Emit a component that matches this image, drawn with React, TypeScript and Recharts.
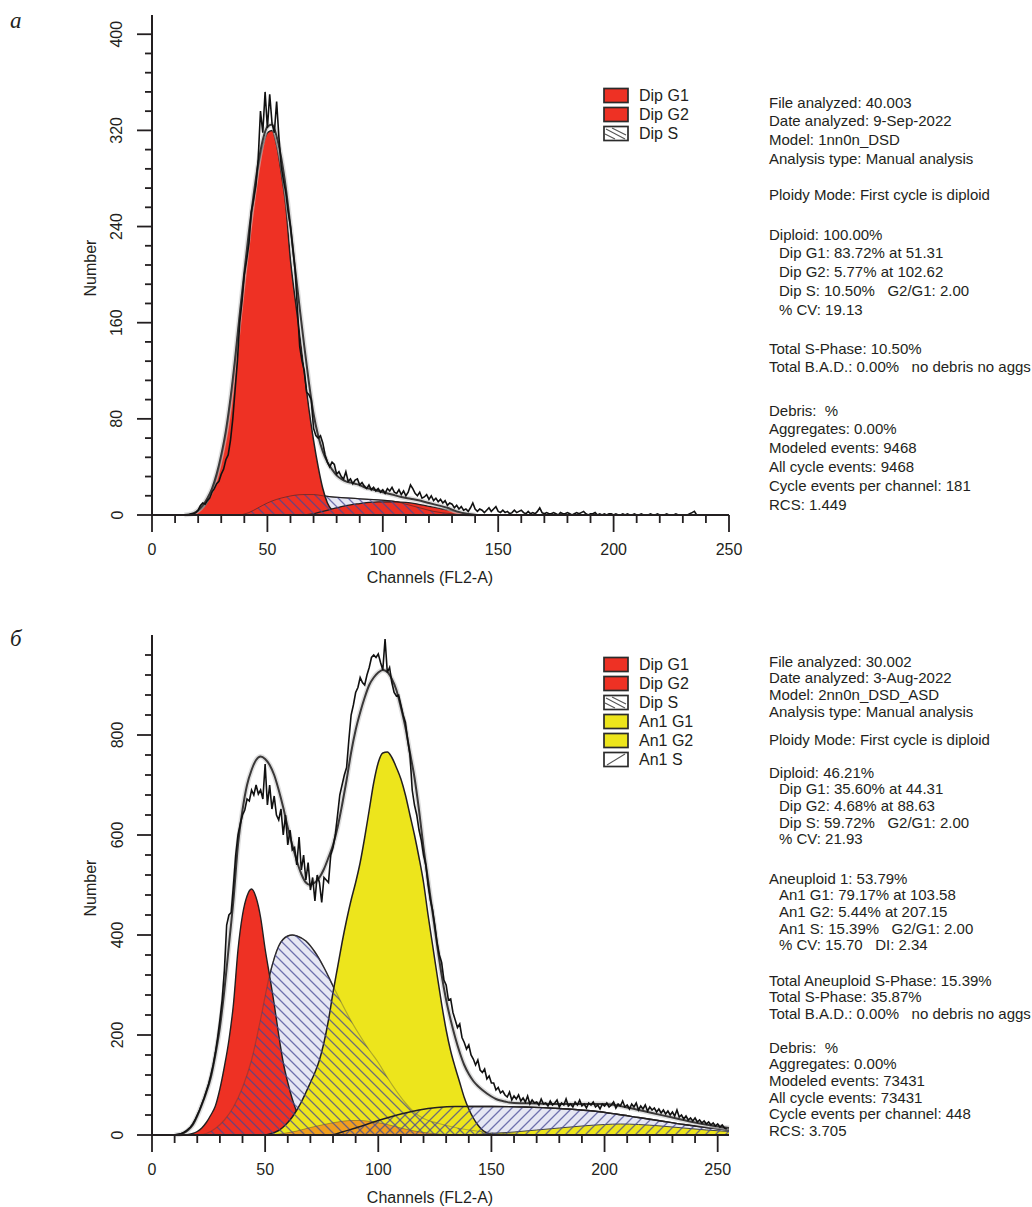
import React from 'react';
import { ComposedChart, Area, Line, XAxis, YAxis, Label } from 'recharts';

const FONT = '"Liberation Sans", Arial, Helvetica, sans-serif';
const INK = '#231f20';
const RED = '#ee3124';
const YELLOW = '#ede51c';
const LAVENDER = '#e6e7f3';
const HATCH = 'rgba(70,72,150,0.75)';

type Pt = [number, number];

// ---------------- shared ticks ----------------
const xTicks = [0, 10, 20, 30, 40, 50, 60, 70, 80, 90, 100, 110, 120, 130, 140, 150, 160, 170, 180, 190, 200, 210, 220, 230, 240, 250];
const yTicksA = [0, 16, 32, 48, 64, 80, 96, 112, 128, 144, 160, 176, 192, 208, 224, 240, 256, 272, 288, 304, 320, 336, 352, 368, 384, 400];
const yTicksB = [0, 40, 80, 120, 160, 200, 240, 280, 320, 360, 400, 440, 480, 520, 560, 600, 640, 680, 720, 760, 800, 840, 880, 920, 960];

// ---------------- panel а ----------------
const histAStart = 15;
const histA = [
  0, 0, 1, 1, 2, 4, 8, 10, 9, 12,
  14, 19, 22, 26, 28, 34, 38, 46, 50, 62,
  80, 104, 128, 160, 178, 200, 212, 226, 252, 262,
  274, 296, 336, 318, 352, 322, 350, 326, 318, 344,
  314, 290, 278, 268, 252, 240, 222, 204, 172, 140,
  128, 120, 102, 100, 96, 72, 66, 64, 66, 60,
  50, 44, 40, 44, 42, 34, 36, 32, 30, 36,
  28, 30, 26, 29, 30, 25, 27, 24, 22, 25,
  21, 23, 20, 22, 19, 21, 18, 22, 20, 23,
  19, 18, 21, 17, 20, 16, 19, 25, 22, 18,
  16, 19, 14, 15, 17, 13, 16, 12, 14, 11,
  13, 10, 12, 8, 10, 9, 6, 8, 5, 7,
  4, 5, 3, 6, 10, 5, 3, 5, 4, 2,
  4, 6, 3, 5, 7, 3, 2, 4, 2, 3,
  1, 2, 4, 2, 3, 4, 2, 1, 3, 1,
  2, 1, 3, 6, 2, 1, 2, 1, 1, 2,
  1, 0, 2, 1, 1, 2, 1, 0, 1, 2,
  1, 2, 3, 1, 0, 1, 1, 2, 0, 1,
  0, 1, 0, 1, 1, 0, 1, 0, 0, 1,
  0, 1, 0, 0, 1, 0, 0, 1, 0, 0,
  0, 1, 0, 0, 1, 0, 0, 0, 1, 0,
  0, 0, 1, 0, 0, 0, 0, 0, 1, 2,
  3, 0,
];
const dipG1A: Pt[] = [
  [16, 0], [18, 1], [20, 3], [22, 6], [24, 11], [26, 20], [28, 32], [30, 48], [32, 68], [34, 95],
  [36, 128], [38, 165], [40, 200], [42, 232], [44, 262], [46, 288], [48, 307], [50, 318], [52, 320], [54, 308],
  [56, 285], [58, 257], [60, 212], [62, 180], [64, 150], [66, 118], [68, 88], [70, 62], [72, 40], [74, 22],
  [76, 10], [78, 4], [80, 1], [82, 0],
];
const dipG2A: Pt[] = [
  [66, 0], [70, 1], [74, 3], [78, 5], [82, 7], [86, 8.5], [90, 9.5], [94, 10.5], [98, 11], [102, 11],
  [106, 11], [110, 10.5], [114, 9.5], [118, 8], [122, 6.5], [126, 5], [130, 3.5], [134, 2], [138, 1], [142, 0],
];
const dipSA: Pt[] = [
  [38, 0], [42, 2], [46, 6], [50, 10], [54, 13], [58, 15], [62, 16.5], [66, 17], [70, 17], [74, 16],
  [78, 15], [82, 14.5], [86, 14], [90, 13.5], [94, 13], [98, 12.5], [102, 12], [106, 11], [110, 9], [116, 6],
  [122, 3], [130, 1], [136, 0],
];
const totalA: Pt[] = [
  [14, 0], [16, 0.5], [18, 1.5], [20, 4], [22, 8], [24, 14], [26, 22], [28, 34], [30, 50], [32, 70],
  [34, 97], [36, 130], [38, 167], [40, 202], [42, 236], [44, 266], [46, 292], [48, 312], [50, 323], [52, 325],
  [54, 315], [56, 297], [58, 272], [60, 240], [62, 205], [64, 172], [66, 140], [68, 110], [70, 84], [72, 66],
  [74, 53], [76, 44], [78, 38], [80, 33], [82, 30], [84, 28], [86, 27], [88, 26], [90, 25], [92, 23],
  [94, 22], [96, 21], [98, 20], [100, 19], [104, 17], [108, 15], [112, 13.5], [116, 12], [120, 10], [124, 8],
  [128, 6], [132, 3], [136, 1], [140, 0],
];

// ---------------- panel б ----------------
const histBStart = 10;
const histB = [
  0, 1, 2, 3, 5, 8, 12, 16, 22, 30,
  40, 50, 62, 74, 88, 102, 120, 140, 165, 195,
  230, 270, 330, 420, 440, 445, 500, 560, 600, 622,
  640, 650, 672, 668, 690, 680, 700, 682, 690, 672,
  742, 660, 700, 652, 678, 640, 630, 652, 600, 640,
  580, 610, 570, 575, 540, 596, 530, 560, 510, 545,
  490, 515, 468, 520, 505, 465, 515, 510, 505, 560,
  575, 600, 640, 680, 700, 720, 735, 790, 840, 860,
  885, 895, 915, 905, 900, 920, 935, 955, 960, 955,
  962, 945, 930, 992, 925, 935, 905, 885, 878, 880,
  860, 840, 825, 790, 760, 690, 660, 640, 610, 590,
  560, 540, 500, 470, 450, 420, 385, 360, 345, 310,
  300, 270, 272, 245, 230, 215, 222, 195, 185, 172,
  180, 160, 152, 140, 150, 130, 125, 132, 112, 118,
  104, 104, 90, 95, 84, 88, 80, 76, 86, 70,
  78, 72, 80, 68, 74, 66, 78, 62, 70, 64,
  66, 60, 72, 62, 64, 58, 68, 60, 64, 70,
  56, 64, 60, 72, 58, 62, 56, 66, 60, 70,
  58, 62, 54, 64, 60, 66, 56, 60, 52, 62,
  58, 64, 56, 60, 66, 54, 62, 58, 68, 56,
  60, 52, 62, 56, 64, 50, 58, 52, 60, 48,
  56, 50, 54, 46, 52, 44, 50, 42, 48, 40,
  46, 38, 50, 36, 40, 32, 38, 30, 34, 28,
  34, 26, 30, 24, 28, 22, 26, 20, 24, 18,
  22, 16, 20, 14, 12,
];
const dipG1B: Pt[] = [
  [14, 0], [16, 1], [18, 3], [20, 7], [22, 14], [24, 25], [26, 40], [28, 58], [30, 92], [32, 137],
  [34, 190], [36, 262], [38, 370], [40, 440], [42, 478], [44, 492], [46, 475], [48, 435], [50, 372], [52, 318],
  [54, 262], [56, 200], [58, 145], [60, 105], [62, 72], [64, 45], [66, 18], [68, 6], [70, 2], [72, 0],
];
const dipG2B: Pt[] = [
  [52, 0], [58, 3], [64, 8], [70, 15], [76, 21], [82, 26], [88, 29], [92, 29], [98, 26], [104, 21],
  [110, 14], [116, 8], [122, 4], [128, 1.5], [134, 0],
];
const dipSB: Pt[] = [
  [20, 0], [24, 3], [28, 13], [32, 30], [36, 56], [40, 95], [44, 150], [48, 232], [52, 320], [56, 378],
  [60, 398], [62, 400], [64, 398], [68, 388], [72, 366], [76, 335], [80, 298], [84, 262], [88, 228], [92, 198],
  [96, 170], [100, 145], [104, 115], [108, 88], [112, 64], [116, 45], [120, 33], [126, 24], [132, 17], [140, 10],
  [150, 5], [160, 2], [170, 0],
];
const anG1B: Pt[] = [
  [50, 0], [52, 2], [54, 5], [56, 9], [58, 16], [60, 25], [62, 36], [64, 50], [66, 66], [68, 85],
  [70, 105], [72, 125], [74, 150], [76, 185], [78, 230], [80, 285], [82, 335], [84, 385], [86, 430], [88, 470],
  [90, 505], [92, 545], [94, 595], [96, 650], [98, 705], [100, 745], [102, 764], [104, 766], [106, 755], [108, 735],
  [110, 712], [112, 680], [114, 640], [116, 600], [118, 555], [120, 505], [122, 440], [124, 380], [126, 320], [128, 262],
  [130, 210], [132, 168], [134, 135], [136, 105], [138, 75], [140, 52], [142, 34], [144, 20], [146, 10], [148, 4],
  [150, 1], [152, 0],
];
const anG2B: Pt[] = [
  [140, 0], [150, 3], [160, 6], [170, 10], [180, 14], [190, 18], [200, 21], [207, 22], [215, 21], [225, 18],
  [235, 14], [245, 10], [255, 7],
];
const anSB: Pt[] = [
  [80, 0], [84, 6], [90, 14], [100, 29], [110, 42], [118, 50], [126, 55], [134, 57], [150, 57], [165, 56],
  [180, 53], [195, 48], [205, 42], [215, 35], [225, 28], [235, 21], [245, 15], [255, 10],
];
const totalB: Pt[] = [
  [10, 0], [12, 1], [14, 4], [16, 10], [18, 20], [20, 38], [22, 60], [24, 85], [26, 115], [28, 160],
  [30, 215], [32, 290], [34, 380], [36, 470], [38, 580], [40, 650], [42, 700], [44, 730], [46, 750], [48, 757],
  [50, 752], [52, 740], [54, 720], [56, 690], [58, 655], [60, 615], [62, 580], [64, 548], [66, 522], [68, 505],
  [70, 500], [72, 505], [74, 515], [76, 532], [78, 555], [80, 580], [82, 615], [84, 660], [86, 710], [88, 765],
  [90, 810], [92, 845], [94, 875], [96, 900], [98, 915], [100, 925], [102, 930], [104, 926], [106, 912], [108, 890],
  [110, 855], [112, 815], [114, 765], [116, 715], [118, 650], [120, 575], [122, 510], [124, 445], [126, 380], [128, 320],
  [130, 270], [132, 230], [134, 195], [136, 165], [138, 140], [140, 122], [142, 108], [144, 98], [146, 90], [148, 83],
  [150, 77], [152, 72], [154, 69], [156, 67], [158, 65], [160, 64], [170, 63], [180, 62], [190, 62], [200, 62],
  [210, 55], [220, 45], [230, 35], [240, 25], [250, 17], [255, 14],
];

// ---------------- legends & text ----------------
type Kind = 'red' | 'yellow' | 'back' | 'fwd';
const legendA: { label: string; kind: Kind }[] = [
  { label: 'Dip G1', kind: 'red' },
  { label: 'Dip G2', kind: 'red' },
  { label: 'Dip S', kind: 'back' },
];
const legendB: { label: string; kind: Kind }[] = [
  { label: 'Dip G1', kind: 'red' },
  { label: 'Dip G2', kind: 'red' },
  { label: 'Dip S', kind: 'back' },
  { label: 'An1 G1', kind: 'yellow' },
  { label: 'An1 G2', kind: 'yellow' },
  { label: 'An1 S', kind: 'fwd' },
];
const infoA: string[][] = [
  ['File analyzed: 40.003', 'Date analyzed: 9-Sep-2022', 'Model: 1nn0n_DSD', 'Analysis type: Manual analysis'],
  ['Ploidy Mode: First cycle is diploid'],
  ['Diploid: 100.00%', '  Dip G1: 83.72% at 51.31', '  Dip G2: 5.77% at 102.62', '  Dip S: 10.50%   G2/G1: 2.00', '  % CV: 19.13'],
  ['Total S-Phase: 10.50%', 'Total B.A.D.: 0.00%   no debris no aggs'],
  ['Debris:  %', 'Aggregates: 0.00%', 'Modeled events: 9468', 'All cycle events: 9468', 'Cycle events per channel: 181', 'RCS: 1.449'],
];
const infoB: string[][] = [
  ['File analyzed: 30.002', 'Date analyzed: 3-Aug-2022', 'Model: 2nn0n_DSD_ASD', 'Analysis type: Manual analysis'],
  ['Ploidy Mode: First cycle is diploid'],
  ['Diploid: 46.21%', '  Dip G1: 35.60% at 44.31', '  Dip G2: 4.68% at 88.63', '  Dip S: 59.72%   G2/G1: 2.00', '  % CV: 21.93'],
  ['Aneuploid 1: 53.79%', '  An1 G1: 79.17% at 103.58', '  An1 G2: 5.44% at 207.15', '  An1 S: 15.39%   G2/G1: 2.00', '  % CV: 15.70   DI: 2.34'],
  ['Total Aneuploid S-Phase: 15.39%', 'Total S-Phase: 35.87%', 'Total B.A.D.: 0.00%   no debris no aggs'],
  ['Debris:  %', 'Aggregates: 0.00%', 'Modeled events: 73431', 'All cycle events: 73431', 'Cycle events per channel: 448', 'RCS: 3.705'],
];

// ---------------- helpers ----------------
function buildData(hist: number[], start: number, series: Record<string, Pt[]>) {
  const map = new Map<number, any>();
  const get = (x: number) => {
    if (!map.has(x)) map.set(x, { x });
    return map.get(x);
  };
  hist.forEach((v, i) => {
    get(start + i).hist = v;
  });
  Object.entries(series).forEach(([key, pts]) => {
    pts.forEach(([x, v]) => {
      get(x)[key] = v;
    });
  });
  return Array.from(map.values()).sort((a, b) => a.x - b.x);
}

const textStyle = { fontFamily: FONT, fontSize: 16, fill: INK } as const;

const makeXTick = (major: number) => (props: any) => {
  const { x, y, payload } = props;
  const isMajor = payload.value % major === 0;
  return (
    <g>
      <line x1={x} x2={x} y1={y} y2={y + (isMajor ? 17 : 8)} stroke={INK} strokeWidth={1.8} />
      {isMajor && (
        <text x={x} y={y + 34} textAnchor="middle" dominantBaseline="central" {...textStyle}>
          {payload.value}
        </text>
      )}
    </g>
  );
};

const makeYTick = (major: number) => (props: any) => {
  const { x, y, payload } = props;
  const isMajor = payload.value % major === 0;
  const lx = x - 35;
  return (
    <g>
      <line x1={x - (isMajor ? 15 : 7)} x2={x} y1={y} y2={y} stroke={INK} strokeWidth={1.8} />
      {isMajor && (
        <text x={lx} y={y} transform={`rotate(-90 ${lx} ${y})`} textAnchor="middle" dominantBaseline="central" {...textStyle}>
          {payload.value}
        </text>
      )}
    </g>
  );
};

const xTitle = (props: any) => {
  const vb = props.viewBox || { x: 152, y: 515 };
  return (
    <text x={vb.x + 278} y={vb.y + 62} textAnchor="middle" dominantBaseline="central" {...textStyle}>
      Channels (FL2-A)
    </text>
  );
};

const yTitle = (props: any) => {
  const vb = props.viewBox || { x: 92, y: 15, height: 500 };
  const cx = vb.x - 2;
  const cy = vb.y + vb.height / 2 + 3;
  return (
    <text x={cx} y={cy} transform={`rotate(-90 ${cx} ${cy})`} textAnchor="middle" dominantBaseline="central" {...textStyle}>
      Number
    </text>
  );
};

const axisLine = { stroke: INK, strokeWidth: 2 };
const common = { isAnimationActive: false, connectNulls: true, dot: false, activeDot: false } as const;

function PanelA() {
  const data = buildData(histA, histAStart, { g1: dipG1A, g2: dipG2A, s: dipSA, fit: totalA });
  return (
    <ComposedChart width={760} height={600} data={data} margin={{ top: 15, right: 31, bottom: 25, left: 92 }}>
      <XAxis
        dataKey="x"
        type="number"
        domain={[0, 250]}
        ticks={xTicks}
        interval={0}
        tickSize={0}
        tickMargin={0}
        tickLine={false}
        axisLine={axisLine}
        tick={makeXTick(50)}
        height={60}
      >
        <Label content={xTitle} />
      </XAxis>
      <YAxis
        type="number"
        domain={[0, 416]}
        ticks={yTicksA}
        interval={0}
        tickSize={0}
        tickMargin={0}
        tickLine={false}
        axisLine={axisLine}
        tick={makeYTick(80)}
        width={60}
      >
        <Label content={yTitle} />
      </YAxis>
      <Area {...common} type="monotone" dataKey="s" fill={LAVENDER} fillOpacity={1} stroke={INK} strokeWidth={1.3} />
      <Area {...common} type="monotone" dataKey="g1" fill={RED} fillOpacity={1} stroke={INK} strokeWidth={1.5} />
      <Area {...common} type="monotone" dataKey="g2" fill={RED} fillOpacity={1} stroke={INK} strokeWidth={1.3} />
      <Area {...common} type="monotone" dataKey="s" fill="url(#hatchBack)" fillOpacity={1} stroke="rgba(35,31,32,0.5)" strokeWidth={1} />
      <Line {...common} type="monotone" dataKey="fit" stroke="#c9c9c9" strokeWidth={5} strokeOpacity={0.6} />
      <Line {...common} type="monotone" dataKey="fit" stroke="#3a3838" strokeWidth={2} />
      <Line {...common} type="linear" dataKey="hist" stroke="#111" strokeWidth={1.6} />
    </ComposedChart>
  );
}

function PanelB() {
  const data = buildData(histB, histBStart, {
    g1: dipG1B,
    g2: dipG2B,
    s: dipSB,
    ag1: anG1B,
    ag2: anG2B,
    as: anSB,
    fit: totalB,
  });
  return (
    <ComposedChart width={760} height={587} data={data} margin={{ top: 15, right: 31, bottom: 12, left: 92 }}>
      <XAxis
        dataKey="x"
        type="number"
        domain={[0, 255]}
        ticks={xTicks}
        interval={0}
        tickSize={0}
        tickMargin={0}
        tickLine={false}
        axisLine={axisLine}
        tick={makeXTick(50)}
        height={60}
      >
        <Label content={xTitle} />
      </XAxis>
      <YAxis
        type="number"
        domain={[0, 1000]}
        ticks={yTicksB}
        interval={0}
        tickSize={0}
        tickMargin={0}
        tickLine={false}
        axisLine={axisLine}
        tick={makeYTick(200)}
        width={60}
      >
        <Label content={yTitle} />
      </YAxis>
      <Area {...common} type="monotone" dataKey="s" fill={LAVENDER} fillOpacity={1} stroke={INK} strokeWidth={1.4} />
      <Area {...common} type="monotone" dataKey="as" fill={LAVENDER} fillOpacity={1} stroke={INK} strokeWidth={1.4} />
      <Area {...common} type="monotone" dataKey="g1" fill={RED} fillOpacity={1} stroke={INK} strokeWidth={1.4} />
      <Area {...common} type="monotone" dataKey="ag1" fill={YELLOW} fillOpacity={1} stroke={INK} strokeWidth={1.5} />
      <Area {...common} type="monotone" dataKey="ag2" fill={YELLOW} fillOpacity={1} stroke="#444" strokeWidth={1} />
      <Area {...common} type="monotone" dataKey="g2" fill="#f2701f" fillOpacity={0.6} stroke="rgba(35,31,32,0.35)" strokeWidth={1} />
      <Area {...common} type="monotone" dataKey="s" fill="url(#hatchBack)" fillOpacity={1} stroke="rgba(60,60,60,0.35)" strokeWidth={1.2} />
      <Area {...common} type="monotone" dataKey="as" fill="url(#hatchFwd)" fillOpacity={1} stroke={INK} strokeWidth={1.4} />
      <Line {...common} type="monotone" dataKey="fit" stroke="#c9c9c9" strokeWidth={5} strokeOpacity={0.6} />
      <Line {...common} type="monotone" dataKey="fit" stroke="#3a3838" strokeWidth={2} />
      <Line {...common} type="linear" dataKey="hist" stroke="#111" strokeWidth={1.6} />
    </ComposedChart>
  );
}

function Swatch({ kind }: { kind: Kind }) {
  const fill = kind === 'red' ? RED : kind === 'yellow' ? YELLOW : '#fff';
  return (
    <svg width={26} height={17} style={{ display: 'block' }}>
      <rect x={1} y={1.5} width={24} height={14} fill={fill} stroke="#2b2b2b" strokeWidth={1.7} />
      {kind === 'back' && (
        <g stroke="#555" strokeWidth={1.1}>
          <line x1={3} y1={4} x2={22} y2={14} />
          <line x1={9} y1={3} x2={23} y2={10} />
          <line x1={2} y1={9} x2={12} y2={14} />
        </g>
      )}
      {kind === 'fwd' && (
        <g stroke="#555" strokeWidth={1.1}>
          <line x1={4} y1={14} x2={22} y2={3} />
        </g>
      )}
    </svg>
  );
}

function Legend({ items, left, top }: { items: { label: string; kind: Kind }[]; left: number; top: number }) {
  return (
    <div style={{ position: 'absolute', left, top }}>
      {items.map((it) => (
        <div key={it.label} style={{ display: 'flex', alignItems: 'center', height: 19 }}>
          <Swatch kind={it.kind} />
          <span style={{ marginLeft: 10, fontFamily: FONT, fontSize: 16, color: INK, lineHeight: '19px' }}>{it.label}</span>
        </div>
      ))}
    </div>
  );
}

function Info({ groups, centers, lineH }: { groups: string[][]; centers: number[]; lineH: number }) {
  return (
    <>
      {groups.map((g, gi) => (
        <div key={gi} style={{ position: 'absolute', left: 769, top: centers[gi] - lineH / 2 }}>
          {g.map((line, li) => {
            const indent = line.startsWith('  ');
            return (
              <div
                key={li}
                style={{
                  fontFamily: FONT,
                  fontSize: 15,
                  color: INK,
                  height: lineH,
                  lineHeight: `${lineH}px`,
                  whiteSpace: 'pre',
                  paddingLeft: indent ? 10 : 0,
                }}
              >
                {indent ? line.slice(2) : line}
              </div>
            );
          })}
        </div>
      ))}
    </>
  );
}

export default function App() {
  return (
    <div style={{ position: 'absolute', left: 0, top: 0, width: 1032, height: 1207, overflow: 'hidden', background: '#fff' }}>
      <svg width={0} height={0} style={{ position: 'absolute' }}>
        <defs>
          <pattern id="hatchBack" patternUnits="userSpaceOnUse" width={10} height={10}>
            <path d="M-1,-1 L11,11 M-1,9 L1,11 M9,-1 L11,1" stroke={HATCH} strokeWidth={1.3} />
          </pattern>
          <pattern id="hatchFwd" patternUnits="userSpaceOnUse" width={10} height={10}>
            <path d="M-1,11 L11,-1 M-1,1 L1,-1 M9,11 L11,9" stroke={HATCH} strokeWidth={1.3} />
          </pattern>
        </defs>
      </svg>

      <div style={{ position: 'absolute', left: 10, top: 8, fontFamily: '"Liberation Serif", serif', fontStyle: 'italic', fontSize: 23, lineHeight: '26px', color: INK }}>
        а
      </div>
      <div style={{ position: 'absolute', left: 10, top: 626, fontFamily: '"Liberation Serif", serif', fontStyle: 'italic', fontSize: 23, lineHeight: '26px', color: INK }}>
        б
      </div>

      <div style={{ position: 'absolute', left: 0, top: 0 }}>
        <PanelA />
      </div>
      <div style={{ position: 'absolute', left: 0, top: 620 }}>
        <PanelB />
      </div>

      <Legend items={legendA} left={603} top={86} />
      <Legend items={legendB} left={603} top={655} />

      <Info groups={infoA} centers={[103, 195, 235, 349, 411]} lineH={18.8} />
      <Info groups={infoB} centers={[662, 740, 773, 879, 981, 1048]} lineH={16.7} />
    </div>
  );
}
